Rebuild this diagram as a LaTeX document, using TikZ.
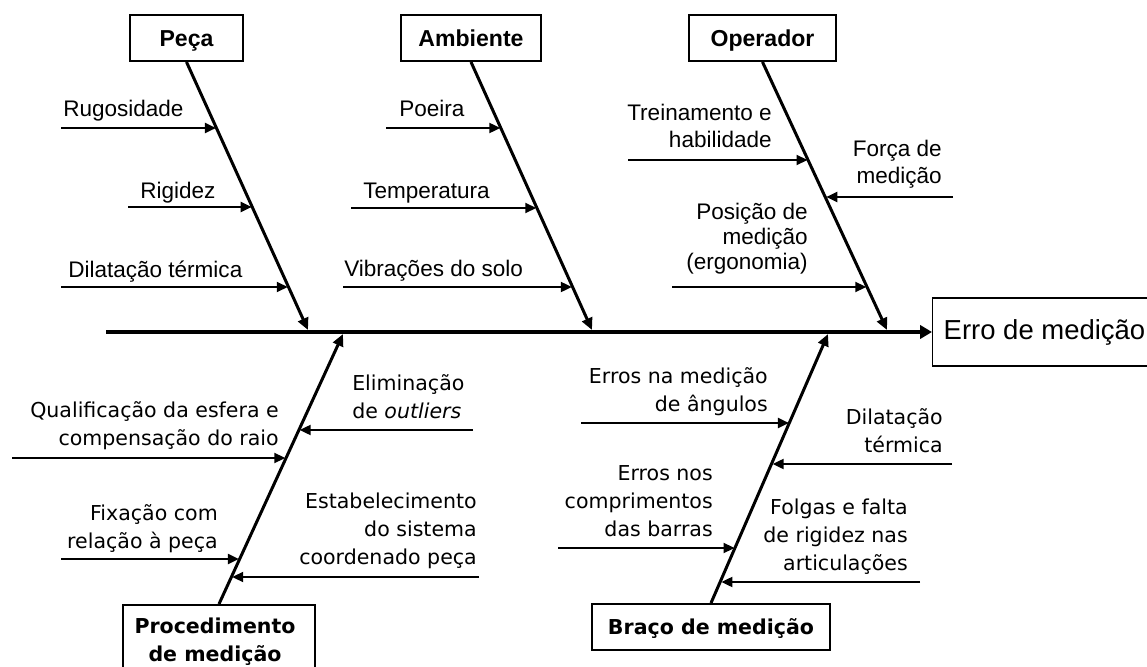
\documentclass[tikz,border=0pt]{standalone}
\usepackage{fontspec}
\setmainfont{Liberation Sans}
\newfontfamily\verd{DejaVu Sans}
\usetikzlibrary{arrows.meta}
\tikzset{
  spineline/.style={line width=3pt,-{Triangle[length=9pt,width=10pt]}},
  boneline/.style={line width=2.25pt,-{Triangle[length=9pt,width=8pt]}},
  subarrow/.style={line width=1.5pt,-{Triangle[length=8.25pt,width=7.5pt]},shorten >=0.6pt},
  topbox/.style={draw,line width=1.5pt,inner sep=0pt,minimum height=34.5pt,
     text height=12.4pt,text depth=0pt,
     font=\fontsize{17.3}{20}\selectfont\bfseries},
  botbox/.style={draw,line width=1.5pt,inner sep=0pt,minimum height=34.5pt,
     text height=11.2pt,text depth=0pt,
     font=\verd\fontsize{15.4}{21}\selectfont\bfseries},
  toptext/.style={inner sep=0pt,font=\fontsize{16.9}{20.25}\selectfont},
  bottext/.style={inner sep=0pt,font=\verd\fontsize{15.4}{21}\selectfont},
  resbox/.style={draw,line width=1.1pt,inner xsep=8.25pt,minimum height=51pt,
     font=\fontsize{20.6}{24}\selectfont}
}
\begin{document}
\begin{tikzpicture}[x=0.75pt,y=-0.75pt]
\useasboundingbox (0,0) rectangle (1147,667);
\fill[white] (0,0) rectangle (1147,667);

% effect box and spine
\node[resbox,anchor=west] (erro) at (932,332) {Erro de medição};
\coordinate (spL) at (106,332);
\draw[spineline] (spL) -- (erro.west);

% category boxes
\node[topbox,minimum width=84.75pt] (peca) at (186.5,38) {Peça};
\node[topbox,minimum width=105pt] (amb) at (471,38) {Ambiente};
\node[topbox,minimum width=110.25pt] (oper) at (762.5,38) {Operador};
\node[botbox,minimum width=178.5pt] (braco) at (711,627) {Braço de medição};
\node[draw,line width=1.5pt,anchor=north,minimum width=144pt,minimum height=75pt] (proc) at (219,604) {};
\node[inner sep=0pt,align=center,anchor=base,font=\verd\fontsize{15.4}{21}\selectfont\bfseries] (proctxt) at (215,661) {Procedimento\\de medição};

% tips on spine
\coordinate (s1) at (308,330);
\coordinate (s2) at (592,330);
\coordinate (s3) at (887,330);
\coordinate (s4) at (343,334);
\coordinate (s5) at (828,334);

% bones
\draw[boneline] (peca.south) -- coordinate[pos=0.249] (pa) coordinate[pos=0.543] (pb) coordinate[pos=0.840] (pc) (s1);
\draw[boneline] (amb.south) -- coordinate[pos=0.249] (aa) coordinate[pos=0.546] (ab) coordinate[pos=0.840] (ac) (s2);
\draw[boneline] (oper.south) -- coordinate[pos=0.368] (oa) coordinate[pos=0.506] (ob) coordinate[pos=0.840] (oc) (s3);
\draw[boneline] (proc.north) -- coordinate[pos=0.644] (qa) coordinate[pos=0.541] (qb) coordinate[pos=0.167] (qc) coordinate[pos=0.100] (qd) (s4);
\draw[boneline] (braco.north) -- coordinate[pos=0.673] (ba) coordinate[pos=0.520] (bb) coordinate[pos=0.208] (bc) coordinate[pos=0.082] (bd) (s5);

% tails of sub-cause arrows
\coordinate (tpa) at (61,128);
\coordinate (tpb) at (128,207);
\coordinate (tpc) at (61,287);
\coordinate (taa) at (386,128);
\coordinate (tab) at (351,208);
\coordinate (tac) at (343,287);
\coordinate (toa) at (628,160);
\coordinate (tob) at (953,197);
\coordinate (toc) at (672,287);
\coordinate (tqa) at (473,430);
\coordinate (tqb) at (12,458);
\coordinate (tqc) at (61,559);
\coordinate (tqd) at (479,577);
\coordinate (tba) at (581,423);
\coordinate (tbb) at (952,464);
\coordinate (tbc) at (558,548);
\coordinate (tbd) at (920,582);

\foreach \t/\h in {tpa/pa,tpb/pb,tpc/pc,taa/aa,tab/ab,tac/ac,toa/oa,tob/ob,toc/oc,
                   tqa/qa,tqb/qb,tqc/qc,tqd/qd,tba/ba,tbb/bb,tbc/bc,tbd/bd}
  \draw[subarrow] (\t) -- (\t -| \h);

% top texts (anchor = baseline of the last line)
\node[toptext,anchor=base west] (t1) at (63,117) {Rugosidade};
\node[toptext,anchor=base west] (t2) at (140,198) {Rigidez};
\node[toptext,anchor=base west] (t3) at (68,277) {Dilatação térmica};
\node[toptext,anchor=base west] (t4) at (399,117) {Poeira};
\node[toptext,anchor=base west] (t5) at (363,198) {Temperatura};
\node[toptext,anchor=base west] (t6) at (344,276) {Vibrações do solo};
\node[toptext,align=right,anchor=base east] (t7) at (772,147) {Treinamento e\\habilidade};
\node[toptext,align=right,anchor=base east] (t8) at (942,183) {Força de\\medição};
\node[toptext,align=right,anchor=base east,font=\fontsize{16.9}{18.75}\selectfont] (t9) at (808,269) {Posição de\\medição\\(ergonomia)};

% bottom texts
\node[bottext,align=left,anchor=base west] (b1) at (352,418) {Eliminação\\de \textit{outliers}};
\node[bottext,align=right,anchor=base east] (b2) at (279,445) {Qualificação da esfera e\\compensação do raio};
\node[bottext,align=right,anchor=base east] (b3) at (218,548) {Fixação com\\relação à peça};
\node[bottext,align=right,anchor=base east] (b4) at (477,564) {Estabelecimento\\do sistema\\coordenado peça};
\node[bottext,align=right,anchor=base east] (b5) at (768,411) {Erros na medição\\de ângulos};
\node[bottext,align=right,anchor=base east] (b6) at (943,452) {Dilatação\\térmica};
\node[bottext,align=right,anchor=base east] (b7) at (713,536) {Erros nos\\comprimentos\\das barras};
\node[bottext,align=right,anchor=base east] (b8) at (908,570) {Folgas e falta\\de rigidez nas\\articulações};
\end{tikzpicture}
\end{document}
